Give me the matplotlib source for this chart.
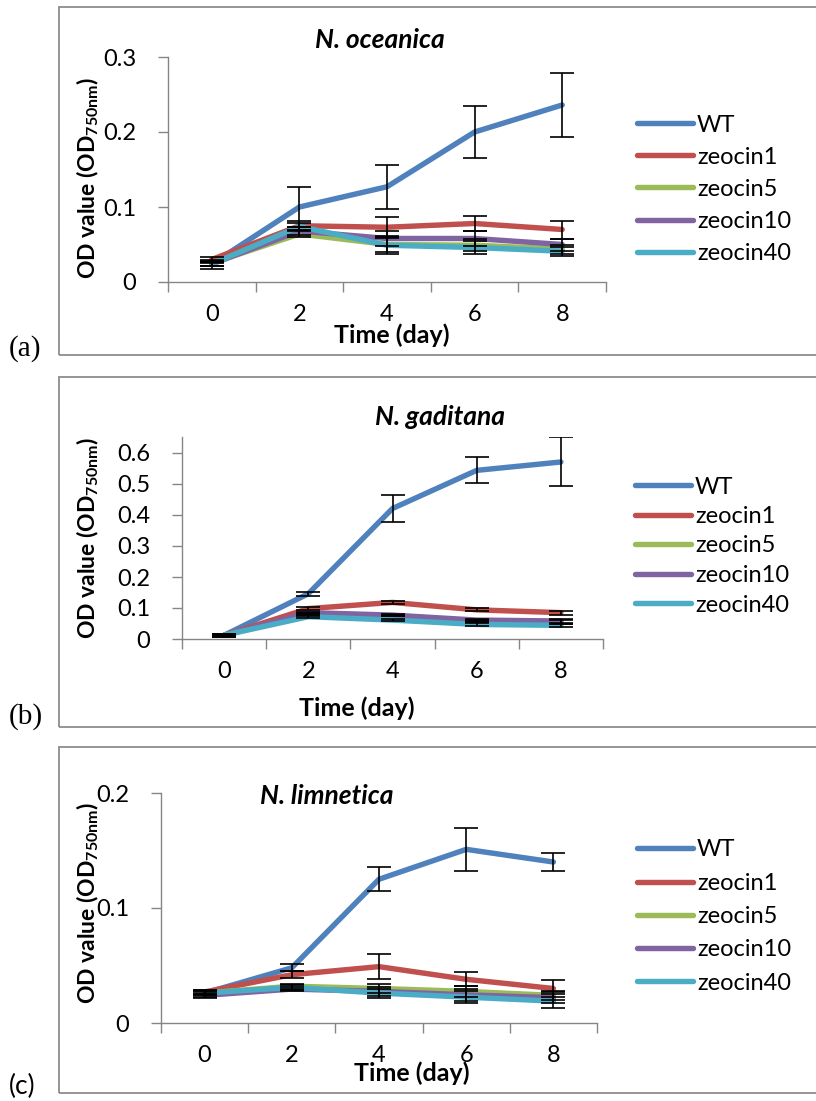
import matplotlib
matplotlib.use("Agg")
import matplotlib.pyplot as plt
from matplotlib.patches import Rectangle
import numpy as np

plt.rcParams['font.family'] = ['Lato', 'DejaVu Sans']
plt.rcParams['mathtext.fontset'] = 'custom'
plt.rcParams['mathtext.rm'] = 'Lato'
plt.rcParams['mathtext.bf'] = 'Lato:bold'

# ---- data ----
days = ["0", "2", "4", "6", "8"]
series_names = ["WT", "zeocin1", "zeocin5", "zeocin10", "zeocin40"]
series_colors = ["#4F81BD", "#C0504D", "#9BBB59", "#8064A2", "#4BACC6"]

# N. oceanica
oce_wt = [0.024, 0.100, 0.127, 0.200, 0.236]
oce_z1 = [0.030, 0.075, 0.073, 0.078, 0.070]
oce_z5 = [0.025, 0.064, 0.050, 0.049, 0.044]
oce_z10 = [0.024, 0.068, 0.058, 0.058, 0.050]
oce_z40 = [0.024, 0.074, 0.049, 0.046, 0.041]
oce_wt_err = [0.006, 0.027, 0.029, 0.035, 0.043]
oce_z1_err = [0.004, 0.006, 0.014, 0.010, 0.012]
oce_z5_err = [0.003, 0.004, 0.010, 0.008, 0.006]
oce_z10_err = [0.003, 0.005, 0.010, 0.010, 0.008]
oce_z40_err = [0.003, 0.005, 0.012, 0.009, 0.006]

# N. gaditana
gad_wt = [0.012, 0.146, 0.421, 0.544, 0.571]
gad_z1 = [0.012, 0.098, 0.118, 0.094, 0.085]
gad_z5 = [0.012, 0.082, 0.076, 0.058, 0.055]
gad_z10 = [0.012, 0.085, 0.077, 0.061, 0.058]
gad_z40 = [0.012, 0.072, 0.061, 0.047, 0.044]
gad_wt_err = [0.005, 0.006, 0.043, 0.042, 0.079]
gad_z1_err = [0.004, 0.004, 0.004, 0.005, 0.006]
gad_z5_err = [0.003, 0.003, 0.003, 0.004, 0.005]
gad_z10_err = [0.003, 0.003, 0.003, 0.004, 0.005]
gad_z40_err = [0.003, 0.003, 0.003, 0.004, 0.005]

# N. limnetica
lim_wt = [0.026, 0.048, 0.125, 0.151, 0.140]
lim_z1 = [0.027, 0.042, 0.049, 0.038, 0.030]
lim_z5 = [0.026, 0.032, 0.030, 0.0275, 0.024]
lim_z10 = [0.024, 0.0295, 0.0275, 0.0245, 0.022]
lim_z40 = [0.026, 0.031, 0.026, 0.0225, 0.019]
lim_wt_err = [0.003, 0.003, 0.0105, 0.019, 0.008]
lim_z1_err = [0.002, 0.003, 0.011, 0.006, 0.007]
lim_z5_err = [0.002, 0.002, 0.004, 0.005, 0.004]
lim_z10_err = [0.002, 0.002, 0.004, 0.005, 0.005]
lim_z40_err = [0.002, 0.002, 0.004, 0.005, 0.006]

W, H = 816, 1101
fig = plt.figure(figsize=(W / 100, H / 100), dpi=100)


def fx(px):
    return px / W


def fy(py):
    return 1 - py / H


GRAY = "#868686"
TICK_FS = 17
LEG_FS = 17
TITLE_FS = 19
XLAB_FS = 18
YLAB_FS = 16.5

panels = [
    dict(title="N. oceanica", means=[oce_wt, oce_z1, oce_z5, oce_z10, oce_z40],
         errs=[oce_wt_err, oce_z1_err, oce_z5_err, oce_z10_err, oce_z40_err],
         ax_px=(168, 606, 57, 282), ylim=(0, 0.3), yticks=[0, 0.1, 0.2, 0.3],
         yfmt=["0", "0.1", "0.2", "0.3"],
         box=(59, 7, 355), title_xy=(380, 40), xlabel_xy=(392, 335),
         ylabel_xy=(88, 178), leg_xy=(637, 114.5), leg_sp=0.47,
         tag="(a)", tag_xy=(9, 349), tag_font="Liberation Serif", tag_fs=21),
    dict(title="N. gaditana", means=[gad_wt, gad_z1, gad_z5, gad_z10, gad_z40],
         errs=[gad_wt_err, gad_z1_err, gad_z5_err, gad_z10_err, gad_z40_err],
         ax_px=(182, 603, 437.5, 639), ylim=(0, 0.65),
         yticks=[0, 0.1, 0.2, 0.3, 0.4, 0.5, 0.6],
         yfmt=["0", "0.1", "0.2", "0.3", "0.4", "0.5", "0.6"],
         box=(59, 377, 727), title_xy=(440, 417), xlabel_xy=(357, 708),
         ylabel_xy=(88, 538), leg_xy=(635, 476.5), leg_sp=0.36,
         tag="(b)", tag_xy=(9, 717), tag_font="Liberation Serif", tag_fs=21),
    dict(title="N. limnetica", means=[lim_wt, lim_z1, lim_z5, lim_z10, lim_z40],
         errs=[lim_wt_err, lim_z1_err, lim_z5_err, lim_z10_err, lim_z40_err],
         ax_px=(161, 597, 793, 1023), ylim=(0, 0.2), yticks=[0, 0.1, 0.2],
         yfmt=["0", "0.1", "0.2"],
         box=(59, 747, 1093), title_xy=(327, 796), xlabel_xy=(412, 1073),
         ylabel_xy=(88, 903), leg_xy=(637, 839.5), leg_sp=0.52,
         tag="(c)", tag_xy=(9, 1086), tag_font="Lato", tag_fs=19),
]

x = np.arange(len(days))

for p in panels:
    # panel frame
    bx, btop, bbot = p["box"]
    fig.add_artist(Rectangle((fx(bx), fy(bbot)), fx(W + 20 - bx), fy(btop) - fy(bbot),
                             transform=fig.transFigure, fill=False,
                             edgecolor="#8C8C8C", linewidth=1.3))

    l, r, t, b = p["ax_px"]
    ax = fig.add_axes([fx(l), fy(b), fx(r) - fx(l), fy(t) - fy(b)])
    ax.set_xlim(-0.5, len(days) - 0.5)
    ax.set_ylim(*p["ylim"])
    for s in ["top", "right"]:
        ax.spines[s].set_visible(False)
    for s in ["left", "bottom"]:
        ax.spines[s].set_color(GRAY)
        ax.spines[s].set_linewidth(1.0)

    handles = []
    for name, col, m in zip(series_names, series_colors, p["means"]):
        h, = ax.plot(x, m, color=col, lw=3.9, solid_capstyle="round",
                     solid_joinstyle="round", label=name, zorder=2)
        handles.append(h)
    for m, e in zip(p["means"], p["errs"]):
        ax.errorbar(x, m, yerr=e, fmt="none", ecolor="black", elinewidth=1.2,
                    capsize=8.5, capthick=1.2, zorder=3)

    # category axis: ticks on the boundaries, labels at the centres
    ax.set_xticks(np.arange(-0.5, len(days)), labels=[""] * (len(days) + 1))
    ax.set_xticks(x, labels=days, minor=True)
    ax.tick_params(axis="x", which="major", direction="out", length=7,
                   width=1.0, color=GRAY)
    ax.tick_params(axis="x", which="minor", length=0, pad=16, labelsize=TICK_FS)
    ax.set_yticks(p["yticks"], labels=p["yfmt"])
    ax.tick_params(axis="y", direction="out", length=7, width=1.0, color=GRAY,
                   pad=16, labelsize=TICK_FS)

    tx, ty = p["title_xy"]
    fig.text(fx(tx), fy(ty), p["title"], fontsize=TITLE_FS, fontweight="bold",
             fontstyle="italic", ha="center", va="center")
    lx, ly = p["xlabel_xy"]
    fig.text(fx(lx), fy(ly), "Time (day)", fontsize=XLAB_FS, fontweight="bold",
             ha="center", va="center")
    yx, yy = p["ylabel_xy"]
    fig.text(fx(yx), fy(yy), r"OD value (OD$_{\mathbf{750nm}}$)", fontsize=YLAB_FS,
             fontweight="bold", rotation=90, ha="center", va="center")
    gx, gy = p["tag_xy"]
    fig.text(fx(gx), fy(gy), p["tag"], fontsize=p["tag_fs"], family=p["tag_font"],
             ha="left", va="center")

    lgx, lgy = p["leg_xy"]
    fig.legend(handles=handles, loc="upper left",
               bbox_to_anchor=(fx(lgx), fy(lgy)), frameon=False,
               fontsize=LEG_FS, handlelength=2.37, handletextpad=0.17,
               labelspacing=p["leg_sp"], borderpad=0, borderaxespad=0)

fig.savefig("out.png", dpi=100)
